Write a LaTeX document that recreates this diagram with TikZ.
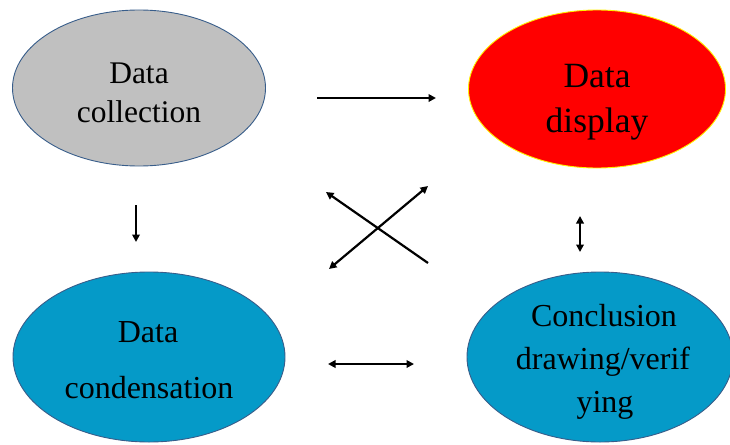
\documentclass[tikz,border=0pt]{standalone}
\usepackage{fontspec}
\setmainfont{Liberation Serif}
\usetikzlibrary{shapes.geometric,arrows.meta}
\definecolor{ggrey}{RGB}{192,192,192}
\definecolor{gblue}{RGB}{5,154,200}
\definecolor{edgeblue}{RGB}{56,93,138}
\begin{document}
\begin{tikzpicture}[x=1pt,y=-1pt,
  oval/.style={ellipse,inner sep=0pt,draw=edgeblue,line width=0.9pt},
  txt/.style={anchor=base,inner sep=0pt},
  conn/.style={line width=2.2pt,-{Triangle[length=7.5pt,width=7.5pt]}},
  conn2/.style={line width=2.2pt,{Triangle[length=7.5pt,width=7.5pt]}-{Triangle[length=7.5pt,width=7.5pt]}}]
\useasboundingbox (0,0) rectangle (730,444);
\begin{scope}
\clip (0,0) rectangle (730,444);
\node[oval,fill=ggrey,minimum width=253pt,minimum height=156pt] (coll) at (139,88) {};
\node[oval,fill=red,draw=yellow,minimum width=257pt,minimum height=158pt] (disp) at (597,89) {};
\node[oval,fill=gblue,minimum width=272pt,minimum height=170pt] (cond) at (149,357) {};
\node[oval,fill=gblue,minimum width=266pt,minimum height=170pt] (concl) at (600,357) {};
\end{scope}
\begin{scope}[every node/.style={txt}]
\node[font=\fontsize{31.5}{38}\selectfont] (coll1) at (139,83) {Data};
\node[font=\fontsize{31.5}{38}\selectfont] (coll2) at (139,122) {collection};
\node[font=\fontsize{35.5}{42}\selectfont] (disp1) at (597,87) {Data};
\node[font=\fontsize{35.5}{42}\selectfont] (disp2) at (597,132) {display};
\node[font=\fontsize{32}{38}\selectfont] (cond1) at (148,342) {Data};
\node[font=\fontsize{32}{38}\selectfont] (cond2) at (149,398) {condensation};
\node[font=\fontsize{32}{38}\selectfont] (concl1) at (604,326) {Conclusion};
\node[font=\fontsize{32}{38}\selectfont] (concl2) at (603,369) {drawing/verif};
\node[font=\fontsize{32}{38}\selectfont] (concl3) at (605,412) {ying};
\end{scope}
\coordinate (a1) at (317,98);  \coordinate (a2) at (436,98);
\coordinate (b1) at (136,205); \coordinate (b2) at (136,242);
\coordinate (c1) at (329,269); \coordinate (c2) at (428,186);
\coordinate (d1) at (428,263); \coordinate (d2) at (326,192);
\coordinate (e1) at (580,216); \coordinate (e2) at (580,252);
\coordinate (f1) at (328,364); \coordinate (f2) at (414,364);
\draw[conn] (a1) -- (a2);
\draw[conn] (b1) -- (b2);
\draw[conn2] (c1) -- (c2);
\draw[conn] (d1) -- (d2);
\draw[conn2] (e1) -- (e2);
\draw[conn2] (f1) -- (f2);
\end{tikzpicture}
\end{document}
